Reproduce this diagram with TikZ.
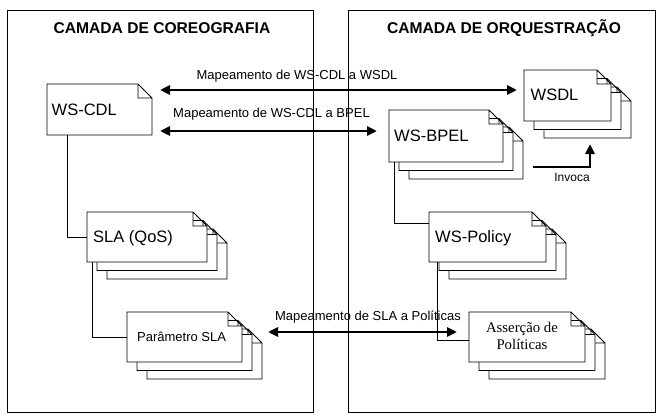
\documentclass[tikz,border=0pt]{standalone}
\usepackage{fontspec}
\setmainfont{Liberation Sans}
\newfontfamily\timesfont{Liberation Serif}
\usepackage{tikz}
\usetikzlibrary{arrows.meta}
\tikzset{
  layer/.style={
    draw,
    line width = 1pt,
    inner sep = 0pt,
    anchor = north west
  },
  docarea/.style={
    inner sep = 0pt,
    outer sep = 0pt
  },
  docline/.style={
    line width = 0.9pt
  },
  link/.style={
    line width = 0.9pt
  },
  maparrow/.style={
    line width = 2.6pt,
    {Triangle[length=10pt,width=9pt]}-{Triangle[length=10pt,width=9pt]}
  },
  callarrow/.style={
    line width = 2.6pt,
    -{Triangle[length=10pt,width=9pt]}
  }
}
\tikzset{
  layertitle/.style={font=\fontsize{15.6}{18}\selectfont\bfseries, inner sep=0pt, anchor=base},
  doctext/.style={font=\fontsize{16.5}{20}\selectfont, inner sep=0pt, anchor=base west},
  maptext/.style={font=\fontsize{13}{16}\selectfont, inner sep=0pt, anchor=base}
}

\begin{document}
\begin{tikzpicture}[x=1pt, y=-1pt]
\useasboundingbox (0,0) rectangle (662,420);
\newcommand\docpage[4]{%
  \filldraw[docline, fill=white] (#1,#2) -- (#3-14,#2) -- (#3,#2+14) -- (#3,#4) -- (#1,#4) -- cycle
    (#3-14,#2) -- (#3-14,#2+14) -- (#3,#2+14);
}
\newcommand\docstack[5]{%
  \docpage{#2+20}{#3+17}{#4+20}{#5+17}
  \docpage{#2+10}{#3+8.5}{#4+10}{#5+8.5}
  \docpage{#2}{#3}{#4}{#5}
  \node[docarea, minimum width=#4-#2, minimum height=#5-#3] (#1) at (#2/2+#4/2,#3/2+#5/2) {};
}

% camadas
\node[layer, minimum width=306, minimum height=402] (cor) at (7,10) {};
\node[layer, minimum width=307, minimum height=402] (orq) at (348,10) {};
\node[layertitle] (cortitle) at (162,34) {CAMADA DE COREOGRAFIA};
\node[layertitle] (orqtitle) at (504,34) {CAMADA DE ORQUESTRAÇÃO};

% documentos
\docpage{47}{84}{152}{135}
\node[docarea, minimum width=105, minimum height=51] (wscdl) at (99.5,109.5) {};
\docstack{sla}{87}{212}{207}{262}
\docstack{param}{127}{312}{242}{362}
\docstack{wsdl}{524}{70}{611}{121}
\docstack{wsbpel}{389}{110}{503}{162}
\docstack{wspolicy}{429}{212}{546}{262}
\docstack{assercao}{469}{312}{585}{362}

\node[doctext] (wscdltxt) at (51.5,115) {WS-CDL};
\node[doctext] (slatxt) at (93,242.5) {SLA (QoS)};
\node[doctext, font=\fontsize{13}{16}\selectfont] (paramtxt) at (137,341) {Parâmetro SLA};
\node[doctext] (wsdltxt) at (530.5,100.7) {WSDL};
\node[doctext] (wsbpeltxt) at (394,141.7) {WS-BPEL};
\node[doctext] (wspolicytxt) at (435,242.5) {WS-Policy};
\node[font=\timesfont\fontsize{14.8}{16.7}\selectfont, align=center, inner sep=0pt] (assercaotxt) at (522,336) {Asserção de\\Políticas};

% ligacoes
\draw[link] ([xshift=20pt]wscdl.south west) |- (sla.west);
\draw[link] ([xshift=5pt]sla.south west) |- (param.west);
\draw[link] ([xshift=5pt]wsbpel.south west) |- ([yshift=14pt]wspolicy.west);
\draw[link] ([xshift=8pt]wspolicy.south west) |- ([yshift=-3pt]assercao.west);

% mapeamentos
\path ([xshift=8pt,yshift=19.5pt]wscdl.east) edge[maparrow] ([xshift=-7pt,yshift=5.5pt]wsdl.west)
      ([xshift=8pt,yshift=-21.5pt]wscdl.east) edge[maparrow] ([xshift=-12pt,yshift=5pt]wsbpel.west)
      ([xshift=26pt,yshift=5pt]param.east) edge[maparrow] ([xshift=-12pt,yshift=5pt]assercao.west);
\draw[callarrow] ([xshift=30pt,yshift=-5pt]wsbpel.south east) -| ([xshift=-21pt,yshift=-23pt]wsdl.south east);

\node[maptext] (lblwsdl) at (297,79.3) {Mapeamento de WS-CDL a WSDL};
\node[maptext] (lblbpel) at (271.5,117.3) {Mapeamento de WS-CDL a BPEL};
\node[maptext] (lblpol) at (368,320.5) {Mapeamento de SLA a Políticas};
\node[maptext, font=\fontsize{12}{14}\selectfont] (lblinvoca) at (572,181.7) {Invoca};
\end{tikzpicture}
\end{document}
